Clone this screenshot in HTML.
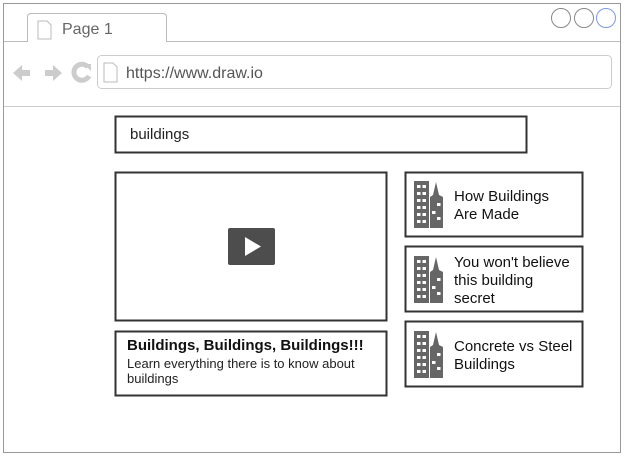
<!DOCTYPE html>
<html><head><style>body{margin:0;background:#fff}svg{display:block}</style></head><body>
<svg width="625" height="458" viewBox="0 0 625 458" xmlns="http://www.w3.org/2000/svg" font-family="Liberation Sans, sans-serif">
<defs>
<g id="bld">
<rect x="0" y="0" width="15" height="47" fill="#666"/>
<g fill="#fff">
<rect x="3" y="4" width="3.5" height="3"/><rect x="8.5" y="4" width="3.5" height="3"/>
<rect x="3" y="11" width="3.5" height="3"/><rect x="8.5" y="11" width="3.5" height="3"/>
<rect x="3" y="18" width="3.5" height="3"/><rect x="8.5" y="18" width="3.5" height="3"/>
<rect x="3" y="25" width="3.5" height="3"/><rect x="8.5" y="25" width="3.5" height="3"/>
<rect x="3" y="32" width="3.5" height="3"/><rect x="8.5" y="32" width="3.5" height="3"/>
<rect x="3" y="39" width="3.5" height="3"/><rect x="8.5" y="39" width="3.5" height="3"/>
</g>
<path d="M16 47 V16 L19 14 L22 1 L25 14 L29 16 V47 Z" fill="#666"/>
<g fill="#fff"><rect x="23" y="22" width="3.5" height="3"/><rect x="18" y="30" width="3.5" height="3"/><rect x="23" y="36" width="3.5" height="3"/></g>
</g>
</defs>
<rect x="3.5" y="3.5" width="617" height="449" fill="#fff" stroke="#999" stroke-width="1"/>
<path d="M4 41.5 H27.5 V17 Q27.5 13.5 31 13.5 H163 Q166.5 13.5 166.5 17 V41.5 H620" fill="none" stroke="#bbb"/>
<path d="M38 21 h9 l4 4 v14 h-13 z" fill="none" stroke="#bbb"/>
<text x="62" y="34" font-size="16" fill="#666">Page 1</text>
<circle cx="561" cy="18" r="9.5" fill="none" stroke="#888"/>
<circle cx="584" cy="18" r="9.5" fill="none" stroke="#888"/>
<circle cx="606" cy="18" r="9.5" fill="none" stroke="#7a9ae8"/>
<path d="M13 73 l9 -8 v5 h8 v6 h-8 v5 z" fill="#ccc"/>
<path d="M62 73 l-9 -8 v5 h-8 v6 h8 v5 z" fill="#ccc"/>
<path d="M88 67 a8 8 0 1 0 1 9" fill="none" stroke="#ccc" stroke-width="5"/>
<path d="M84 64 l7 0 l0 7 z" fill="#ccc"/>
<rect x="97.5" y="55.5" width="514" height="33" rx="4" fill="#fff" stroke="#ccc"/>
<path d="M104 63 h9 l4 4 v15 h-13 z" fill="none" stroke="#bbb"/>
<text x="126" y="78" font-size="16" fill="#555">https://www.draw.io</text>
<line x1="4" y1="106.5" x2="620" y2="106.5" stroke="#ccc"/>
<rect x="115.5" y="116.5" width="411" height="36" fill="#fff" stroke="#333" stroke-width="2"/>
<text x="130" y="139" font-size="15" fill="#222">buildings</text>
<rect x="115.5" y="172.5" width="271" height="148" fill="#fff" stroke="#333" stroke-width="2"/>
<rect x="228" y="228" width="47" height="37" rx="2" fill="#4d4d4d"/>
<path d="M245 237 L261 246.5 L245 256 Z" fill="#fff"/>
<rect x="115.5" y="331.5" width="271" height="64" fill="#fff" stroke="#333" stroke-width="2"/>
<text x="127" y="350" font-size="15" font-weight="bold" fill="#111">Buildings, Buildings, Buildings!!!</text>
<text x="127" y="368" font-size="13" fill="#222">Learn everything there is to know about</text>
<text x="127" y="383" font-size="13" fill="#222">buildings</text>
<rect x="405.5" y="172.5" width="177" height="64" fill="#fff" stroke="#333" stroke-width="2"/>
<use href="#bld" x="414" y="181"/>
<text x="454" y="201" font-size="15" fill="#111">How Buildings</text>
<text x="454" y="219" font-size="15" fill="#111">Are Made</text>
<rect x="405.5" y="246.5" width="177" height="65" fill="#fff" stroke="#333" stroke-width="2"/>
<use href="#bld" x="414" y="256"/>
<text x="454" y="267" font-size="15" fill="#111">You won't believe</text>
<text x="454" y="285" font-size="15" fill="#111">this building</text>
<text x="454" y="303" font-size="15" fill="#111">secret</text>
<rect x="405.5" y="321.5" width="177" height="65" fill="#fff" stroke="#333" stroke-width="2"/>
<use href="#bld" x="414" y="331"/>
<text x="454" y="351" font-size="15" fill="#111">Concrete vs Steel</text>
<text x="454" y="369" font-size="15" fill="#111">Buildings</text>
</svg>
</body></html>
